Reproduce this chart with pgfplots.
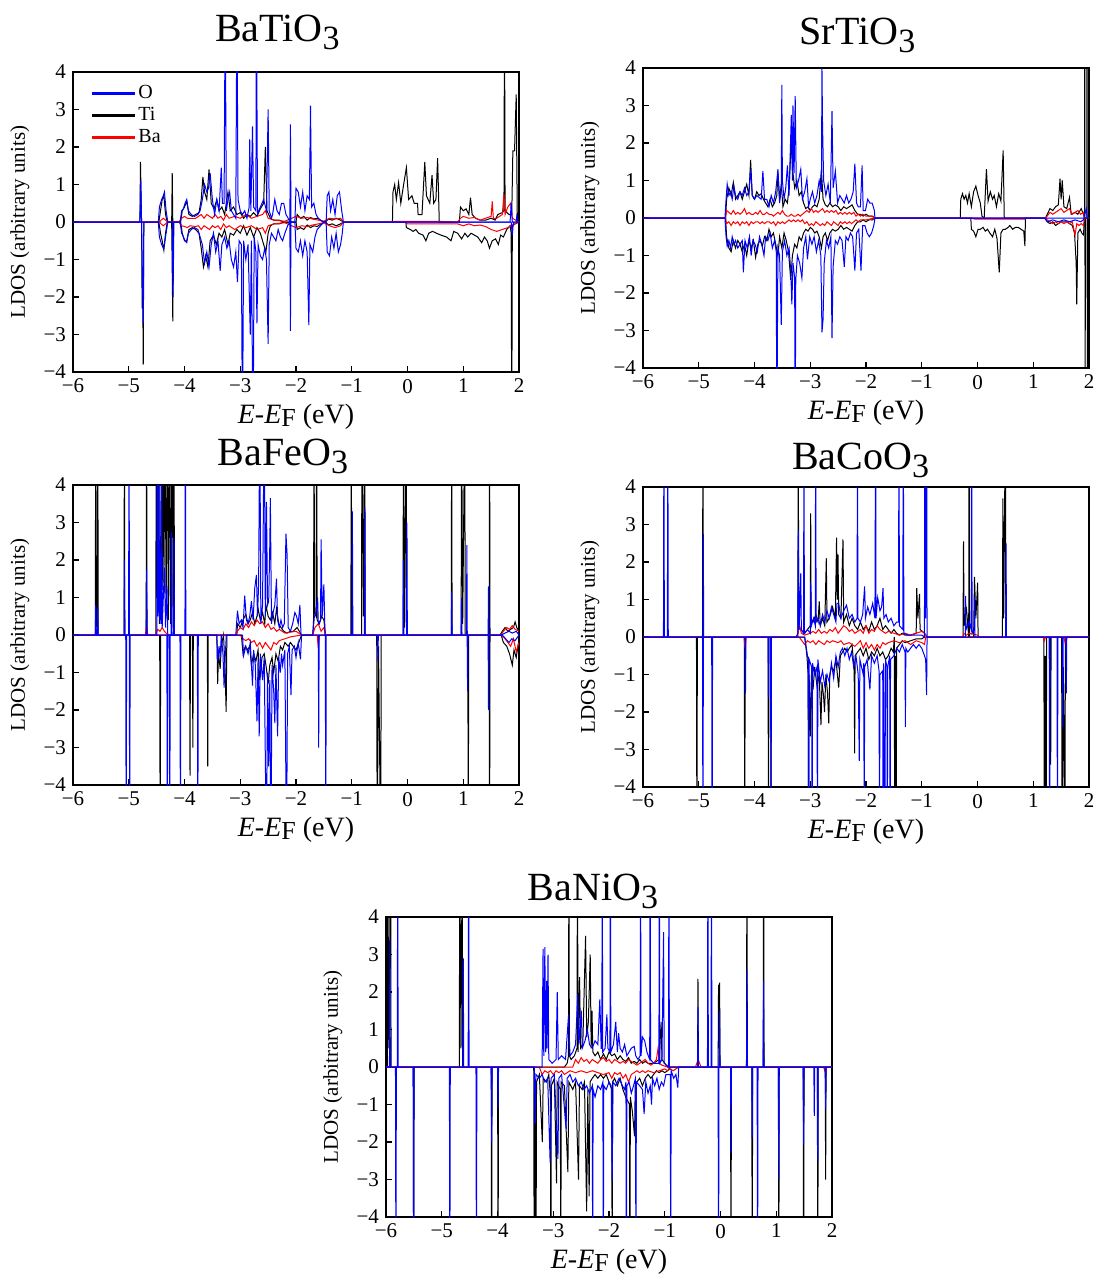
\documentclass[border=0pt]{standalone}
\usepackage{fontspec}
\setmainfont{Liberation Serif}
\usepackage{pgfplots}
\pgfplotsset{compat=1.18}
\tikzset{ti/.style={font=\fontsize{20}{24}\selectfont, anchor=base, inner sep=0pt}}
\newcommand{\tm}[1]{\textrm{#1}}
\pgfplotsset{
 dos/.style={
  scale only axis, width=223pt, height=150pt,
  xmin=-6, xmax=2, ymin=-4, ymax=4,
  xtick={-6,-5,-4,-3,-2,-1,0,1,2},
  xticklabels={\tm{−6},\tm{−5},\tm{−4},\tm{−3},\tm{−2},\tm{−1},\tm{0},\tm{1},\tm{2}},
  ytick={-4,-3,-2,-1,0,1,2,3,4},
  yticklabels={\tm{−4},\tm{−3},\tm{−2},\tm{−1},\tm{0},\tm{1},\tm{2},\tm{3},\tm{4}},
  xtick pos=bottom, ytick pos=left, tick align=inside,
  major tick length=3pt,
  every tick/.style={black, line width=0.6pt},
  axis line style={line width=0.9pt},
  ticklabel style={font=\fontsize{10.5}{12}\selectfont},
  xlabel={\textit{E}-\textit{E}\raisebox{-0.25ex}{\fontsize{13}{14}\selectfont F} (eV)},
  xlabel style={at={(axis description cs:0.5,-0.17)}, anchor=base, font=\fontsize{14}{16}\selectfont},
  ylabel={LDOS (arbitrary units)},
  ylabel style={at={(axis description cs:-0.119,0.5)}, anchor=center, font=\fontsize{10.5}{12}\selectfont},
  every axis plot/.append style={line width=0.5pt, no marks},
 }
}
\newcommand{\sub}[1]{\raisebox{-4pt}{\fontsize{17}{17}\selectfont #1}}
\begin{document}
\begin{tikzpicture}
\useasboundingbox (0,0) rectangle (551pt,-642pt);
% titles
\node[ti] at (138.75pt,-21pt) {BaTiO\sub{3}};
\node[ti] at (428.75pt,-22.5pt) {SrTiO\sub{3}};
\node[ti] at (141.5pt,-232.5pt) {BaFeO\sub{3}};
\node[ti] at (430.25pt,-234.5pt) {BaCoO\sub{3}};
\node[ti] at (296.5pt,-450pt) {BaNiO\sub{3}};

% ---------------- BaTiO3 ----------------
\begin{axis}[dos, at={(36.5pt,-36pt)}, anchor=north west,
  legend style={at={(axis description cs:0.04,0.965)}, anchor=north west, draw=none, fill=none, inner sep=0pt,
    font=\fontsize{10}{11}\selectfont, row sep=0.5pt, nodes={text height=7pt, text depth=1.5pt, inner sep=1pt}},
  legend cell align=left,
  legend image code/.code={\draw[#1, line width=1.1pt] (0pt,0pt) -- (21.5pt,0pt);}]
\addlegendimage{blue}\addlegendentry{O}
\addlegendimage{black}\addlegendentry{Ti}
\addlegendimage{red}\addlegendentry{Ba}
\addplot[black, forget plot] coordinates {(-6,0)(-4.80,0)(-4.79,1.6)(-4.77,0)(-4.46,0)(-4.43,0.3)(-4.40,0.6)(-4.37,0.7)(-4.34,0.2)(-4.31,0)(-4.23,0)(-4.22,1.3)(-4.21,0)(-4.07,0)(-4.04,0.3)(-4.0,0.4)(-3.96,0.55)(-3.92,0.2)(-3.86,0.15)(-3.80,0.2)(-3.74,0.25)(-3.70,0.6)(-3.67,1.2)(-3.64,0.8)(-3.60,0.6)(-3.56,1.4)(-3.52,0.5)(-3.47,0.35)(-3.42,0.6)(-3.38,0.3)(-3.33,0.4)(-3.28,0.2)(-3.22,0.8)(-3.18,0.3)(-3.12,0.4)(-3.06,0.2)(-3.00,0.25)(-2.94,0.1)(-2.88,0.2)(-2.82,0.15)(-2.76,0.25)(-2.70,0.15)(-2.64,0.35)(-2.58,0.5)(-2.55,2.0)(-2.52,0.3)(-2.46,0.1)(-2.40,0.05)(-2.30,0.05)(-2.22,0)(-2.00,0)(-1.98,0.2)(-1.92,0.1)(-1.86,0.15)(-1.80,0.05)(-1.74,0.12)(-1.68,0.08)(-1.62,0.1)(-1.55,0.04)(-1.47,0)(-1.42,0.08)(-1.35,0.05)(-1.28,0.1)(-1.20,0.05)(-1.15,0)(-0.27,0)(-0.26,0.8)(-0.23,1.0)(-0.20,0.6)(-0.16,1.05)(-0.12,0.5)(-0.08,0.9)(-0.02,1.45)(0.02,0.6)(0.08,0.7)(0.12,0.5)(0.18,0.5)(0.19,0.2)(0.26,0.2)(0.31,1.6)(0.34,0.7)(0.40,0.5)(0.44,1.25)(0.47,0.5)(0.51,0.6)(0.54,1.7)(0.57,0)(0.93,0)(0.95,0.4)(1.00,0.3)(1.05,0.35)(1.10,0.2)(1.13,0.65)(1.16,0.2)(1.22,0.1)(1.30,0.05)(1.40,0.05)(1.50,0.1)(1.57,0.05)(1.62,0.2)(1.70,0.25)(1.73,0.3)(1.74,6)(1.75,0.3)(1.82,0.2)(1.87,0.2)(1.89,1.9)(1.92,1.9)(1.95,3.4)(1.97,0)(2,0)};
\addplot[black, forget plot] coordinates {(-6,0)(-4.77,0)(-4.76,-2.3)(-4.75,-1.6)(-4.74,-3.8)(-4.73,0)(-4.46,0)(-4.43,-0.3)(-4.40,-0.5)(-4.37,-0.75)(-4.34,-0.3)(-4.31,0)(-4.23,0)(-4.21,-2.65)(-4.20,0)(-4.07,0)(-4.04,-0.3)(-4.0,-0.5)(-3.96,-0.5)(-3.92,-0.2)(-3.86,-0.15)(-3.80,-0.2)(-3.74,-0.3)(-3.70,-0.7)(-3.66,-1.2)(-3.62,-0.9)(-3.58,-1.2)(-3.54,-0.5)(-3.48,-0.35)(-3.43,-0.6)(-3.38,-0.3)(-3.33,-0.4)(-3.28,-0.2)(-3.22,-0.6)(-3.18,-0.3)(-3.12,-0.35)(-3.06,-0.2)(-3.00,-0.3)(-2.94,-0.1)(-2.88,-0.35)(-2.82,-0.15)(-2.76,-0.4)(-2.70,-0.15)(-2.64,-0.3)(-2.58,-0.6)(-2.54,-0.8)(-2.50,-0.3)(-2.46,-0.1)(-2.40,-0.05)(-2.30,-0.05)(-2.22,0)(-2.00,0)(-1.98,-0.2)(-1.92,-0.15)(-1.86,-0.2)(-1.80,-0.08)(-1.74,-0.15)(-1.68,-0.1)(-1.62,-0.12)(-1.55,-0.05)(-1.47,0)(-1.42,-0.08)(-1.35,-0.05)(-1.28,-0.1)(-1.20,-0.05)(-1.15,0)(-0.03,0)(-0.02,-0.15)(0.05,-0.2)(0.10,-0.25)(0.15,-0.2)(0.20,-0.3)(0.28,-0.35)(0.33,-0.5)(0.38,-0.3)(0.45,-0.25)(0.52,-0.3)(0.60,-0.35)(0.70,-0.4)(0.78,-0.5)(0.83,-0.25)(0.90,-0.3)(0.97,-0.45)(1.03,-0.3)(1.08,-0.4)(1.14,-0.3)(1.20,-0.35)(1.26,-0.4)(1.33,-0.55)(1.38,-0.4)(1.43,-0.5)(1.47,-0.7)(1.52,-0.5)(1.58,-0.45)(1.63,-0.6)(1.67,-0.35)(1.72,-0.4)(1.78,-0.2)(1.84,-0.1)(1.86,-0.3)(1.87,-6)(1.88,-0.1)(1.93,-0.05)(2,0)};
\addplot[red, forget plot] coordinates {(-6,0)(-4.45,0)(-4.42,0.05)(-4.38,0.1)(-4.3,0)(-4.1,0)(-4.05,0.1)(-4.0,0.15)(-3.95,0.1)(-3.9,0.1)(-3.8,0.1)(-3.75,0.15)(-3.7,0.2)(-3.65,0.1)(-3.6,0.2)(-3.55,0.15)(-3.5,0.1)(-3.45,0.2)(-3.4,0.1)(-3.35,0.15)(-3.3,0.05)(-3.25,0.2)(-3.2,0.1)(-3.1,0.15)(-3.0,0.1)(-2.9,0.2)(-2.8,0.1)(-2.7,0.15)(-2.6,0.2)(-2.55,0.3)(-2.5,0.1)(-2.4,0.05)(-2.2,0.02)(-2.0,0.15)(-1.9,0.1)(-1.8,0.12)(-1.7,0.08)(-1.6,0.05)(-1.5,0.02)(-1.4,0.1)(-1.3,0.08)(-1.2,0.1)(-1.15,0)(-0.3,0)(-0.2,0.02)(0.5,0.02)(0.9,0)(0.95,0.1)(1.0,0.15)(1.1,0.1)(1.2,0.12)(1.3,0.05)(1.4,0.1)(1.5,0.15)(1.52,0.55)(1.54,0.1)(1.6,0.1)(1.7,0.2)(1.73,0.75)(1.75,0.2)(1.8,0.4)(1.85,0.5)(1.88,0.1)(2,0)};
\addplot[red, forget plot] coordinates {(-6,0)(-4.45,0)(-4.42,-0.05)(-4.38,-0.1)(-4.3,0)(-4.1,0)(-4.05,-0.1)(-4.0,-0.12)(-3.95,-0.15)(-3.9,-0.1)(-3.8,-0.12)(-3.75,-0.1)(-3.7,-0.2)(-3.65,-0.1)(-3.6,-0.15)(-3.55,-0.2)(-3.5,-0.1)(-3.45,-0.15)(-3.4,-0.1)(-3.35,-0.2)(-3.3,-0.05)(-3.25,-0.15)(-3.2,-0.1)(-3.1,-0.2)(-3.0,-0.1)(-2.9,-0.15)(-2.8,-0.1)(-2.7,-0.2)(-2.6,-0.15)(-2.55,-0.3)(-2.5,-0.1)(-2.4,-0.05)(-2.2,-0.02)(-2.0,-0.15)(-1.9,-0.1)(-1.8,-0.12)(-1.7,-0.08)(-1.6,-0.05)(-1.5,-0.02)(-1.4,-0.1)(-1.3,-0.15)(-1.2,-0.1)(-1.15,0)(-0.05,0)(0.0,-0.05)(0.5,-0.05)(0.9,-0.05)(1.0,-0.1)(1.1,-0.05)(1.2,-0.1)(1.3,-0.08)(1.4,-0.12)(1.5,-0.2)(1.6,-0.25)(1.7,-0.2)(1.8,-0.15)(1.85,-0.1)(2,0)};
\addplot[blue, forget plot] coordinates {(-6,0)(-4.80,0)(-4.785,1.1)(-4.77,0)(-4.47,0)(-4.45,0.4)(-4.41,0.6)(-4.38,0.7)(-4.36,0.8)(-4.33,0.3)(-4.30,0)(-4.08,0)(-4.05,0.3)(-4.02,0.35)(-3.99,0.5)(-3.96,0.6)(-3.93,0.3)(-3.88,0.2)(-3.82,0.15)(-3.76,0.2)(-3.72,0.3)(-3.68,0.6)(-3.64,1.0)(-3.60,0.8)(-3.57,0.9)(-3.54,1.3)(-3.50,0.6)(-3.46,0.2)(-3.42,0.6)(-3.38,0.3)(-3.34,1.45)(-3.32,0.5)(-3.29,0.5)(-3.27,6)(-3.25,0.3)(-3.22,0.6)(-3.19,0.8)(-3.16,0.3)(-3.12,0.2)(-3.08,0.1)(-3.06,6)(-3.04,0.6)(-3.00,0.3)(-2.96,0.2)(-2.92,0.3)(-2.88,0.1)(-2.84,0.4)(-2.83,2.2)(-2.81,0.3)(-2.78,2.55)(-2.76,0.4)(-2.72,0.3)(-2.71,6)(-2.69,0.2)(-2.64,0.4)(-2.58,0.6)(-2.53,0.3)(-2.50,3.0)(-2.48,0.3)(-2.44,0.1)(-2.42,0.2)(-2.38,0.6)(-2.34,0.3)(-2.30,0.2)(-2.26,0.5)(-2.22,0.5)(-2.18,0.2)(-2.14,0.1)(-2.11,0)(-2.10,2.6)(-2.09,0)(-2.02,0)(-2.0,0.9)(-1.96,0.8)(-1.92,0.4)(-1.88,0.8)(-1.84,0.3)(-1.80,0.7)(-1.76,0.6)(-1.74,3.1)(-1.72,0.4)(-1.68,0.5)(-1.64,0.2)(-1.60,0.1)(-1.52,0)(-1.46,0)(-1.44,0.7)(-1.41,0.8)(-1.38,0.3)(-1.34,0.6)(-1.30,0.2)(-1.26,0.7)(-1.22,0.8)(-1.18,0.3)(-1.15,0)(1.84,0)(1.86,0.5)(1.88,0)(1.95,0)(1.96,0.15)(1.98,0)(2,0)};
\addplot[blue, forget plot] coordinates {(-6,0)(-4.77,0)(-4.76,-1.0)(-4.74,-2.7)(-4.73,0)(-4.47,0)(-4.45,-0.4)(-4.41,-0.6)(-4.38,-0.7)(-4.36,-0.6)(-4.33,-0.3)(-4.30,0)(-4.22,0)(-4.205,-2.0)(-4.19,0)(-4.08,0)(-4.05,-0.3)(-4.02,-0.4)(-3.99,-0.5)(-3.96,-0.55)(-3.93,-0.3)(-3.88,-0.2)(-3.82,-0.15)(-3.76,-0.2)(-3.72,-0.4)(-3.68,-0.6)(-3.64,-1.1)(-3.60,-0.8)(-3.56,-1.2)(-3.52,-0.6)(-3.48,-0.3)(-3.44,-0.8)(-3.40,-0.5)(-3.36,-1.3)(-3.33,-0.6)(-3.28,-0.4)(-3.24,-0.7)(-3.20,-0.5)(-3.16,-1.0)(-3.12,-1.2)(-3.08,-0.8)(-3.05,-1.6)(-3.02,-0.5)(-2.98,-0.6)(-2.96,-6)(-2.94,-0.5)(-2.90,-1.0)(-2.86,-0.6)(-2.82,-3.0)(-2.80,-0.5)(-2.77,-6)(-2.75,-0.4)(-2.72,-0.8)(-2.70,-2.7)(-2.68,-0.6)(-2.64,-0.9)(-2.60,-1.0)(-2.56,-0.7)(-2.53,-1.0)(-2.50,-3.25)(-2.48,-0.6)(-2.44,-0.3)(-2.40,-0.4)(-2.36,-0.5)(-2.32,-0.2)(-2.28,-0.4)(-2.24,-0.5)(-2.20,-0.3)(-2.15,-0.1)(-2.11,0)(-2.10,-2.9)(-2.09,0)(-2.02,0)(-2.0,-0.7)(-1.96,-0.8)(-1.92,-0.5)(-1.88,-0.9)(-1.84,-0.5)(-1.80,-0.8)(-1.77,-2.75)(-1.75,-0.6)(-1.70,-0.8)(-1.66,-0.4)(-1.62,-0.2)(-1.56,-0.1)(-1.50,0)(-1.46,0)(-1.44,-0.8)(-1.40,-0.9)(-1.36,-0.4)(-1.32,-0.7)(-1.28,-0.3)(-1.24,-0.8)(-1.20,-0.6)(-1.17,-0.3)(-1.15,0)(1.86,0)(1.88,-0.35)(1.90,0)(2,0)};
\end{axis}

% ---------------- SrTiO3 ----------------
\begin{axis}[dos, at={(321.5pt,-34pt)}, anchor=north west]
\addplot[black] coordinates {(-6,0)(-4.52,0)(-4.50,0.5)(-4.46,0.8)(-4.42,0.6)(-4.38,0.95)(-4.34,0.5)(-4.30,0.6)(-4.26,0.7)(-4.22,0.5)(-4.18,0.7)(-4.14,0.9)(-4.10,0.6)(-4.07,1.55)(-4.04,0.6)(-4.0,0.5)(-3.96,0.7)(-3.92,0.6)(-3.88,0.65)(-3.84,0.5)(-3.80,0.4)(-3.76,0.3)(-3.72,0.5)(-3.68,0.3)(-3.64,0.4)(-3.60,0.6)(-3.58,1.2)(-3.55,0.5)(-3.52,0.9)(-3.49,0.3)(-3.45,0.5)(-3.41,0.4)(-3.38,0.8)(-3.34,2.05)(-3.31,1.2)(-3.28,0.8)(-3.24,1.0)(-3.20,0.6)(-3.16,0.7)(-3.12,0.4)(-3.08,0.25)(-3.04,0.3)(-3.0,0.2)(-2.96,0.3)(-2.92,0.35)(-2.88,0.3)(-2.84,0.5)(-2.80,1.3)(-2.77,0.5)(-2.73,0.35)(-2.69,0.3)(-2.65,0.4)(-2.60,0.3)(-2.55,0.35)(-2.50,0.3)(-2.45,0.2)(-2.40,0.3)(-2.35,0.25)(-2.30,0.3)(-2.25,0.35)(-2.20,0.2)(-2.15,0.1)(-2.10,0.1)(-2.05,0.05)(-2.0,0.1)(-1.95,0.05)(-1.88,0.05)(-1.85,0)(-0.31,0)(-0.30,0.5)(-0.27,0.65)(-0.24,0.5)(-0.21,0.6)(-0.18,0.4)(-0.15,0.65)(-0.11,0.3)(-0.07,0.7)(-0.03,0.85)(0.01,0.6)(0.05,0.4)(0.08,0.05)(0.12,0.0)(0.16,1.3)(0.19,0.45)(0.23,0.7)(0.27,0.5)(0.30,0.6)(0.34,0.3)(0.38,0.65)(0.42,0.45)(0.46,1.8)(0.48,0)(1.22,0)(1.25,0.1)(1.30,0.25)(1.35,0.2)(1.40,0.3)(1.45,0.35)(1.48,1.05)(1.50,0.5)(1.52,1.0)(1.55,0.3)(1.60,0.25)(1.65,0.55)(1.68,0.1)(1.75,0.15)(1.80,0.1)(1.86,0.25)(1.90,0.1)(1.92,0)(1.925,6)(1.93,-6)(1.935,0)(1.96,0)(1.965,6)(1.97,-6)(1.975,0)(2,0)};
\addplot[black] coordinates {(-6,0)(-4.52,0)(-4.50,-0.5)(-4.46,-0.8)(-4.42,-0.9)(-4.38,-0.6)(-4.34,-0.8)(-4.30,-0.6)(-4.26,-0.7)(-4.22,-0.9)(-4.18,-0.7)(-4.14,-1.0)(-4.10,-0.6)(-4.06,-0.8)(-4.02,-0.6)(-3.98,-1.05)(-3.94,-0.7)(-3.90,-0.6)(-3.86,-0.75)(-3.82,-0.5)(-3.78,-0.6)(-3.74,-0.3)(-3.70,-0.5)(-3.66,-0.4)(-3.62,-0.7)(-3.58,-1.0)(-3.55,-0.5)(-3.51,-0.8)(-3.47,-0.4)(-3.43,-0.6)(-3.39,-0.9)(-3.35,-1.65)(-3.32,-1.0)(-3.28,-0.7)(-3.24,-0.8)(-3.20,-0.5)(-3.16,-0.6)(-3.12,-0.4)(-3.08,-0.3)(-3.04,-0.35)(-3.0,-0.25)(-2.96,-0.3)(-2.92,-0.4)(-2.88,-0.35)(-2.84,-0.5)(-2.80,-0.8)(-2.77,-0.5)(-2.73,-0.4)(-2.69,-0.6)(-2.65,-0.4)(-2.60,-0.3)(-2.55,-0.35)(-2.50,-0.3)(-2.45,-0.2)(-2.40,-0.3)(-2.35,-0.25)(-2.30,-0.3)(-2.25,-0.35)(-2.20,-0.2)(-2.15,-0.1)(-2.10,-0.1)(-2.05,-0.05)(-2.0,-0.1)(-1.95,-0.05)(-1.88,-0.05)(-1.85,0)(-0.12,0)(-0.11,-0.3)(-0.07,-0.35)(-0.03,-0.5)(0.01,-0.3)(0.05,-0.3)(0.10,-0.25)(0.14,-0.35)(0.18,-0.3)(0.22,-0.4)(0.27,-0.5)(0.31,-0.3)(0.35,-0.55)(0.39,-1.45)(0.42,-0.4)(0.46,-0.3)(0.50,-0.3)(0.55,-0.25)(0.58,-0.2)(0.63,-0.3)(0.68,-0.25)(0.73,-0.25)(0.78,-0.3)(0.83,-0.35)(0.85,-0.75)(0.86,0)(1.22,0)(1.25,-0.1)(1.30,-0.15)(1.35,-0.1)(1.40,-0.2)(1.45,-0.15)(1.50,-0.1)(1.55,-0.1)(1.60,-0.1)(1.65,-0.15)(1.70,-0.2)(1.74,-0.4)(1.77,-1.2)(1.78,-2.3)(1.80,-0.4)(1.84,-0.3)(1.87,-0.4)(1.90,-0.45)(1.92,0)(2,0)};
\addplot[red] coordinates {(-6,0)(-4.52,0)(-4.50,0.2)(-4.46,0.15)(-4.42,0.1)(-4.38,0.2)(-4.34,0.1)(-4.30,0.15)(-4.26,0.1)(-4.22,0.15)(-4.18,0.25)(-4.14,0.1)(-4.10,0.15)(-4.06,0.1)(-4.02,0.1)(-3.98,0.15)(-3.94,0.1)(-3.90,0.2)(-3.86,0.1)(-3.82,0.1)(-3.78,0.15)(-3.74,0.1)(-3.70,0.1)(-3.66,0.05)(-3.62,0.1)(-3.58,0.15)(-3.54,0.1)(-3.50,0.2)(-3.46,0.1)(-3.42,0.05)(-3.38,0.05)(-3.34,0.1)(-3.30,0.05)(-3.26,0.05)(-3.22,0.1)(-3.18,0.05)(-3.14,0.1)(-3.10,0.15)(-3.06,0.2)(-3.02,0.15)(-2.98,0.25)(-2.94,0.15)(-2.90,0.2)(-2.86,0.15)(-2.82,0.2)(-2.78,0.25)(-2.74,0.15)(-2.70,0.2)(-2.66,0.15)(-2.62,0.2)(-2.58,0.15)(-2.54,0.2)(-2.50,0.1)(-2.46,0.15)(-2.42,0.1)(-2.38,0.15)(-2.34,0.1)(-2.30,0.15)(-2.26,0.1)(-2.22,0.15)(-2.18,0.05)(-2.14,0.1)(-2.10,0.05)(-2.06,0.1)(-2.0,0.05)(-1.9,0.05)(-1.85,0)(1.22,0)(1.25,0.05)(1.30,0.15)(1.35,0.1)(1.40,0.15)(1.45,0.2)(1.50,0.25)(1.55,0.15)(1.60,0.2)(1.65,0.25)(1.70,0.1)(1.75,0.15)(1.80,0.2)(1.85,0.1)(1.90,0.15)(1.92,0)(2,0)};
\addplot[red] coordinates {(-6,0)(-4.52,0)(-4.50,-0.15)(-4.46,-0.1)(-4.42,-0.2)(-4.38,-0.1)(-4.34,-0.15)(-4.30,-0.1)(-4.26,-0.2)(-4.22,-0.1)(-4.18,-0.15)(-4.14,-0.1)(-4.10,-0.2)(-4.06,-0.1)(-4.02,-0.15)(-3.98,-0.1)(-3.94,-0.1)(-3.90,-0.15)(-3.86,-0.1)(-3.82,-0.15)(-3.78,-0.1)(-3.74,-0.1)(-3.70,-0.15)(-3.66,-0.1)(-3.62,-0.2)(-3.58,-0.1)(-3.54,-0.15)(-3.50,-0.1)(-3.46,-0.15)(-3.42,-0.1)(-3.38,-0.05)(-3.34,-0.1)(-3.30,-0.05)(-3.26,-0.1)(-3.22,-0.05)(-3.18,-0.1)(-3.14,-0.05)(-3.10,-0.15)(-3.06,-0.1)(-3.02,-0.2)(-2.98,-0.15)(-2.94,-0.2)(-2.90,-0.1)(-2.86,-0.15)(-2.82,-0.2)(-2.78,-0.15)(-2.74,-0.2)(-2.70,-0.1)(-2.66,-0.15)(-2.62,-0.2)(-2.58,-0.1)(-2.54,-0.15)(-2.50,-0.2)(-2.46,-0.1)(-2.42,-0.15)(-2.38,-0.1)(-2.34,-0.15)(-2.30,-0.1)(-2.26,-0.15)(-2.22,-0.1)(-2.18,-0.05)(-2.14,-0.1)(-2.10,-0.05)(-2.0,-0.05)(-1.85,0)(-0.10,0)(-0.05,-0.03)(0.85,-0.03)(0.86,0)(1.22,0)(1.25,-0.05)(1.30,-0.1)(1.35,-0.15)(1.40,-0.1)(1.45,-0.15)(1.50,-0.1)(1.55,-0.15)(1.60,-0.1)(1.65,-0.15)(1.70,-0.1)(1.75,-0.45)(1.78,-0.15)(1.82,-0.2)(1.86,-0.15)(1.90,-0.2)(1.92,0)(2,0)};
\addplot[blue] coordinates {(-6,0)(-4.53,0)(-4.51,0.5)(-4.49,0.9)(-4.46,0.6)(-4.43,0.7)(-4.40,0.5)(-4.37,0.85)(-4.34,0.6)(-4.30,0.5)(-4.26,0.7)(-4.22,0.6)(-4.18,0.8)(-4.14,0.6)(-4.10,0.7)(-4.07,1.3)(-4.04,0.6)(-4.0,0.5)(-3.96,0.6)(-3.92,0.55)(-3.88,0.5)(-3.85,1.25)(-3.82,0.5)(-3.78,0.5)(-3.74,0.3)(-3.70,0.6)(-3.66,0.4)(-3.62,0.7)(-3.58,1.3)(-3.55,0.4)(-3.52,0.8)(-3.51,3.55)(-3.50,1.0)(-3.47,0.5)(-3.44,0.8)(-3.41,1.4)(-3.38,0.6)(-3.34,2.75)(-3.32,1.0)(-3.31,3.0)(-3.29,1.2)(-3.27,3.25)(-3.25,0.8)(-3.21,1.0)(-3.17,1.3)(-3.14,0.5)(-3.10,0.7)(-3.06,1.05)(-3.03,0.3)(-3.0,0.5)(-2.96,0.7)(-2.92,0.4)(-2.88,0.6)(-2.84,1.0)(-2.80,0.7)(-2.79,4.0)(-2.78,2.5)(-2.76,1.0)(-2.72,0.6)(-2.68,0.9)(-2.64,0.4)(-2.61,2.85)(-2.59,0.8)(-2.55,1.25)(-2.51,0.4)(-2.47,0.6)(-2.43,0.5)(-2.39,0.4)(-2.35,0.6)(-2.31,0.4)(-2.27,0.5)(-2.23,0.7)(-2.20,1.45)(-2.17,0.4)(-2.14,0.3)(-2.10,0.3)(-2.07,1.4)(-2.05,0.2)(-2.01,0.2)(-1.97,0.5)(-1.93,0.4)(-1.89,0.4)(-1.85,0.2)(-1.84,0)(2,0)};
\addplot[blue] coordinates {(-6,0)(-4.53,0)(-4.51,-0.5)(-4.49,-0.75)(-4.46,-0.6)(-4.43,-0.8)(-4.40,-0.5)(-4.37,-0.7)(-4.34,-0.6)(-4.30,-0.8)(-4.26,-0.7)(-4.22,-0.6)(-4.20,-1.45)(-4.17,-0.6)(-4.13,-0.8)(-4.09,-0.5)(-4.06,-1.0)(-4.03,-0.6)(-3.99,-0.7)(-3.95,-0.9)(-3.91,-0.5)(-3.87,-0.7)(-3.83,-1.0)(-3.80,-0.5)(-3.76,-0.6)(-3.72,-0.4)(-3.68,-0.8)(-3.64,-0.6)(-3.61,-0.9)(-3.60,-6)(-3.58,-0.8)(-3.55,-1.0)(-3.52,-2.85)(-3.50,-0.9)(-3.46,-0.6)(-3.42,-1.0)(-3.38,-0.8)(-3.35,-1.4)(-3.33,-2.3)(-3.31,-1.2)(-3.28,-1.6)(-3.27,-6)(-3.26,-1.65)(-3.23,-1.0)(-3.19,-1.2)(-3.15,-1.6)(-3.12,-0.8)(-3.08,-0.5)(-3.05,-1.1)(-3.01,-0.5)(-2.97,-0.7)(-2.93,-0.5)(-2.89,-0.9)(-2.85,-0.6)(-2.81,-1.0)(-2.79,-3.05)(-2.77,-2.7)(-2.75,-1.2)(-2.71,-0.6)(-2.67,-0.8)(-2.63,-0.5)(-2.61,-3.2)(-2.59,-1.3)(-2.55,-0.6)(-2.51,-0.7)(-2.47,-0.5)(-2.43,-0.6)(-2.39,-1.3)(-2.36,-0.5)(-2.32,-0.6)(-2.28,-0.4)(-2.24,-0.5)(-2.20,-1.4)(-2.17,-0.4)(-2.13,-0.3)(-2.09,-1.4)(-2.06,-0.2)(-2.02,-0.2)(-1.98,-0.4)(-1.94,-0.5)(-1.90,-0.4)(-1.86,-0.2)(-1.84,0)(1.20,0)(1.25,-0.1)(1.35,-0.05)(1.45,-0.1)(1.55,-0.05)(1.65,-0.1)(1.75,-0.05)(1.85,-0.1)(1.90,-0.05)(1.95,0.25)(1.97,0)(2,0)};
\end{axis}

% ---------------- BaFeO3 ----------------
\begin{axis}[dos, at={(36.5pt,-242.5pt)}, anchor=north west]
\addplot[black] coordinates {(-6,0)(-5.60,0)(-5.593,6)(-5.585,0.3)(-5.57,0.2)(-5.555,6)(-5.548,0)(-5.085,0)(-5.078,6)(-5.071,0)(-4.688,0)(-4.68,6)(-4.672,0.2)(-4.665,0)(-4.515,0)(-4.506,6)(-4.497,1.0)(-4.487,6)(-4.475,1.5)(-4.461,6)(-4.45,0.3)(-4.43,1.8)(-4.41,6)(-4.40,1.2)(-4.385,6)(-4.37,1.4)(-4.347,6)(-4.33,0.5)(-4.302,6)(-4.29,0.4)(-4.264,6)(-4.25,0.3)(-4.219,6)(-4.205,0.2)(-4.188,6)(-4.18,0)(-3.06,0)(-3.05,0.3)(-3.0,0.2)(-2.95,0.4)(-2.90,0.55)(-2.86,0.3)(-2.82,0.4)(-2.78,0.6)(-2.74,0.3)(-2.70,0.5)(-2.68,0.7)(-2.64,0.4)(-2.60,0.6)(-2.56,0.3)(-2.54,0.8)(-2.50,0.5)(-2.46,0.4)(-2.42,0.6)(-2.38,0.3)(-2.35,0.7)(-2.31,0.3)(-2.27,0.2)(-2.22,0.1)(-2.16,0.05)(-2.10,0.1)(-2.05,0.1)(-1.98,0.2)(-1.94,0.1)(-1.90,0)(-1.70,0)(-1.685,0.4)(-1.676,6)(-1.668,0.6)(-1.64,0.5)(-1.631,6)(-1.62,0.4)(-1.58,0.3)(-1.54,0.5)(-1.50,0.4)(-1.47,0)(-1.016,0)(-1.008,6)(-1.0,0)(-0.825,0)(-0.817,6)(-0.79,0.5)(-0.766,6)(-0.758,0)(-0.08,0)(-0.073,6)(-0.05,0.2)(-0.022,6)(-0.015,0)(0.785,0)(0.792,6)(0.80,0)(0.962,0)(0.97,6)(0.99,0.3)(1.027,6)(1.035,0)(1.465,0)(1.472,6)(1.48,0)(1.66,0)(1.70,0.1)(1.75,0.2)(1.80,0.1)(1.85,0.15)(1.90,0.2)(1.93,0.35)(1.96,0.2)(2,0.1)};
\addplot[black] coordinates {(-6,0)(-4.445,0)(-4.436,-6)(-4.428,0)(-3.91,0)(-3.901,-3.75)(-3.893,0)(-3.858,0)(-3.85,-3.0)(-3.842,0)(-3.59,0)(-3.583,-3.5)(-3.575,0)(-3.42,0)(-3.405,-1.3)(-3.39,-0.5)(-3.36,-0.9)(-3.34,-0.3)(-3.30,0)(-3.27,-1.0)(-3.253,-2.05)(-3.24,0)(-2.98,0)(-2.95,-0.5)(-2.91,-0.3)(-2.87,-0.4)(-2.83,-0.3)(-2.80,-0.8)(-2.76,-0.5)(-2.72,-0.7)(-2.68,-0.4)(-2.65,-1.2)(-2.61,-0.6)(-2.57,-0.5)(-2.53,-0.9)(-2.50,-1.3)(-2.47,-0.8)(-2.43,-0.6)(-2.40,-1.0)(-2.36,-0.5)(-2.32,-0.7)(-2.28,-0.3)(-2.24,-0.4)(-2.20,-0.2)(-2.14,-0.3)(-2.10,-0.2)(-2.05,-0.3)(-2.0,-0.4)(-1.95,-0.2)(-1.90,0)(-0.552,0)(-0.544,-6)(-0.52,-0.3)(-0.48,-6)(-0.472,0)(1.082,0)(1.09,-6)(1.098,0)(1.465,0)(1.472,-6)(1.48,0)(1.68,0)(1.72,-0.2)(1.78,-0.3)(1.83,-0.5)(1.88,-0.8)(1.91,-0.4)(1.95,-0.6)(1.98,-0.3)(2,-0.5)};
\addplot[red] coordinates {(-6,0)(-5.60,0)(-5.593,0.2)(-5.585,0)(-4.70,0)(-4.68,0.25)(-4.66,0)(-4.52,0)(-4.48,0.15)(-4.44,0.1)(-4.40,0.2)(-4.36,0.1)(-4.30,0)(-3.08,0)(-3.05,0.1)(-3.0,0.2)(-2.95,0.15)(-2.9,0.3)(-2.85,0.2)(-2.8,0.35)(-2.75,0.25)(-2.7,0.4)(-2.65,0.3)(-2.6,0.35)(-2.55,0.2)(-2.5,0.3)(-2.45,0.15)(-2.4,0.2)(-2.35,0.1)(-2.3,0.15)(-2.2,0.05)(-2.0,0.1)(-1.9,0)(-1.70,0)(-1.66,0.2)(-1.60,0.3)(-1.55,0.1)(-1.50,0.2)(-1.47,0)(1.68,0)(1.72,0.1)(1.78,0.2)(1.83,0.15)(1.88,0.25)(1.93,0.15)(2,0.1)};
\addplot[red] coordinates {(-6,0)(-3.0,0)(-2.95,-0.1)(-2.9,-0.15)(-2.85,-0.1)(-2.8,-0.2)(-2.75,-0.15)(-2.7,-0.3)(-2.65,-0.2)(-2.6,-0.35)(-2.55,-0.2)(-2.5,-0.3)(-2.45,-0.4)(-2.4,-0.2)(-2.35,-0.25)(-2.3,-0.15)(-2.2,-0.1)(-2.1,-0.05)(-1.9,0)(-1.62,0)(-1.60,-0.35)(-1.58,0)(1.68,0)(1.75,-0.1)(1.8,-0.2)(1.85,-0.3)(1.9,-0.1)(1.95,-0.45)(2,-0.2)};
\addplot[blue] coordinates {(-6,0)(-5.60,0)(-5.593,0.8)(-5.585,0)(-5.562,0)(-5.555,0.75)(-5.548,0)(-5.085,0)(-5.078,2.0)(-5.07,0)(-5.003,0)(-4.995,6)(-4.987,0)(-4.688,0)(-4.68,1.75)(-4.672,0)(-4.495,0)(-4.487,6)(-4.475,0.5)(-4.461,6)(-4.448,0.4)(-4.436,2.2)(-4.425,0.3)(-4.41,6)(-4.40,0.2)(-4.36,1.8)(-4.34,0.2)(-4.315,1.3)(-4.30,0)(-4.24,0)(-4.232,2.75)(-4.224,0)(-4.195,0)(-4.188,2.6)(-4.18,0)(-3.992,0)(-3.984,6)(-3.976,0)(-3.08,0)(-3.05,0.65)(-3.02,0.3)(-2.98,0.4)(-2.95,0.2)(-2.92,1.05)(-2.89,0.4)(-2.86,0.3)(-2.83,0.5)(-2.80,0.9)(-2.77,0.4)(-2.74,1.25)(-2.71,1.6)(-2.69,0.5)(-2.67,1.4)(-2.65,6)(-2.63,0.3)(-2.60,0.8)(-2.57,6)(-2.55,0.5)(-2.53,3.55)(-2.51,0.8)(-2.49,0.9)(-2.47,2.4)(-2.46,3.65)(-2.44,0.3)(-2.41,0.6)(-2.38,0.8)(-2.35,1.5)(-2.33,0.4)(-2.30,0.2)(-2.27,0.4)(-2.24,0.2)(-2.21,0.3)(-2.18,2.7)(-2.16,2.15)(-2.14,0.2)(-2.10,0.1)(-2.06,0.3)(-2.02,0.6)(-1.99,0.5)(-1.96,0.3)(-1.93,0.8)(-1.91,0)(-1.70,0)(-1.67,0.5)(-1.64,0.6)(-1.612,1.0)(-1.60,0.3)(-1.56,0.4)(-1.55,2.55)(-1.53,0.5)(-1.50,1.35)(-1.48,0)(-0.997,0)(-0.989,3.3)(-0.98,0)(-0.774,0)(-0.766,3.4)(-0.758,0)(-0.08,0)(-0.073,2.0)(-0.066,0)(-0.017,0)(-0.01,3.0)(-0.003,0)(0.785,0)(0.792,1.15)(0.80,0)(0.962,0)(0.97,1.0)(0.978,0)(1.058,0)(1.065,2.4)(1.072,0)(1.446,0)(1.453,1.3)(1.46,0)(1.68,0)(1.75,0.05)(1.82,0.1)(1.88,0.05)(1.95,0.1)(2,0)};
\addplot[blue] coordinates {(-6,0)(-5.054,0)(-5.046,-6)(-5.038,0)(-4.99,0)(-4.983,-6)(-4.975,0)(-4.316,0)(-4.308,-6)(-4.30,0)(-4.272,0)(-4.264,-6)(-4.256,0)(-4.081,0)(-4.073,-6)(-4.065,0)(-3.769,0)(-3.761,-6)(-3.753,0)(-3.42,0)(-3.405,-0.7)(-3.38,-0.3)(-3.36,-0.6)(-3.34,0)(-3.31,-0.5)(-3.29,-1.4)(-3.27,-0.6)(-3.25,0)(-2.96,0)(-2.94,-0.55)(-2.90,-0.3)(-2.86,-0.5)(-2.82,-0.2)(-2.78,-1.35)(-2.76,-0.4)(-2.73,-0.8)(-2.70,-2.3)(-2.68,-0.6)(-2.66,-2.7)(-2.64,-0.5)(-2.60,-1.2)(-2.57,-0.6)(-2.53,-6)(-2.51,-1.0)(-2.49,-3.5)(-2.47,-1.2)(-2.45,-6)(-2.43,-0.8)(-2.40,-1.5)(-2.38,-2.35)(-2.36,-0.8)(-2.33,-2.7)(-2.31,-0.6)(-2.28,-1.0)(-2.26,-0.5)(-2.24,-0.8)(-2.20,-0.4)(-2.17,-6)(-2.15,-0.5)(-2.12,-0.3)(-2.09,-1.6)(-2.07,-0.4)(-2.03,-0.3)(-2.00,-0.6)(-1.96,-0.2)(-1.92,-0.65)(-1.90,0)(-1.60,0)(-1.593,-3.0)(-1.585,0)(-1.474,0)(-1.466,-6)(-1.458,0)(-0.539,0)(-0.531,-0.7)(-0.523,0)(1.07,0)(1.078,-1.5)(1.086,0)(1.446,0)(1.453,-2.0)(1.46,0)(1.70,0)(1.76,-0.1)(1.82,-0.2)(1.87,-0.1)(1.93,-0.15)(2,0)};
\end{axis}

% ---------------- BaCoO3 ----------------
\begin{axis}[dos, at={(321.5pt,-243.5pt)}, anchor=north west]
\addplot[black] coordinates {(-6,0)(-4.933,0)(-4.925,6)(-4.917,0)(-3.223,0)(-3.215,6)(-3.207,0.3)(-3.18,0.2)(-3.10,0.1)(-3.00,0.3)(-2.992,3.3)(-2.985,0.5)(-2.95,0.4)(-2.90,0.6)(-2.86,0.4)(-2.839,0.95)(-2.82,0.3)(-2.78,0.5)(-2.74,0.3)(-2.712,2.1)(-2.70,0.4)(-2.66,0.5)(-2.60,0.8)(-2.55,0.5)(-2.528,2.65)(-2.515,1.0)(-2.502,2.2)(-2.49,0.6)(-2.45,0.5)(-2.413,2.6)(-2.40,0.4)(-2.35,0.6)(-2.30,0.3)(-2.25,0.5)(-2.20,0.3)(-2.15,0.2)(-2.10,0.4)(-2.05,0.2)(-2.0,0.3)(-1.95,0.15)(-1.90,0.4)(-1.85,0.2)(-1.80,0.3)(-1.75,0.5)(-1.70,0.2)(-1.65,0.3)(-1.60,0.2)(-1.55,0.1)(-1.50,0.2)(-1.45,0.1)(-1.40,0.05)(-1.35,0.1)(-1.30,0.05)(-1.20,0.05)(-1.10,0.1)(-1.09,1.3)(-1.07,0.5)(-1.04,1.15)(-1.03,0.2)(-0.95,0.1)(-0.90,0)(-0.26,0)(-0.251,2.55)(-0.24,0.3)(-0.20,0.8)(-0.158,0)(-0.15,6)(-0.142,0)(-0.07,0)(-0.054,1.6)(-0.03,0.5)(0.003,1.45)(0.01,0)(0.447,0)(0.455,3.7)(0.47,0.5)(0.5,6)(0.508,0)(2,0)};
\addplot[black] coordinates {(-6,0)(-5.041,0)(-5.033,-6)(-5.025,0)(-4.183,0)(-4.175,-6)(-4.167,0)(-3.757,0)(-3.749,-6)(-3.741,0)(-3.712,0)(-3.704,-6)(-3.696,0)(-3.10,0)(-3.06,-0.5)(-3.038,-1.0)(-3.03,-6)(-3.02,-1.0)(-2.998,-2.65)(-2.98,-1.0)(-2.95,-1.4)(-2.92,-0.8)(-2.88,-1.3)(-2.84,-1.0)(-2.808,-2.35)(-2.79,-1.2)(-2.76,-1.6)(-2.744,-2.0)(-2.72,-1.0)(-2.69,-1.5)(-2.668,-2.3)(-2.65,-1.0)(-2.62,-0.8)(-2.58,-0.9)(-2.54,-0.6)(-2.49,-1.35)(-2.46,-0.5)(-2.42,-0.4)(-2.38,-0.3)(-2.34,-0.4)(-2.30,-0.3)(-2.25,-0.2)(-2.212,-0.9)(-2.204,-3.1)(-2.196,-0.5)(-2.15,-0.4)(-2.10,-0.3)(-2.05,-0.5)(-2.0,-0.3)(-1.95,-0.6)(-1.90,-0.4)(-1.85,-0.5)(-1.80,-0.3)(-1.75,-0.5)(-1.70,-0.4)(-1.65,-0.6)(-1.60,-0.5)(-1.55,-0.3)(-1.51,-0.4)(-1.493,0)(-1.485,-6)(-1.47,-0.5)(-1.46,-6)(-1.452,-0.3)(-1.40,-0.2)(-1.35,-0.1)(-1.30,-0.15)(-1.20,-0.1)(-1.10,-0.05)(-1.0,-0.05)(-0.95,0)(1.19,0)(1.199,-6)(1.215,-0.5)(1.231,-6)(1.24,0)(1.305,0)(1.313,-3.4)(1.32,0)(1.509,0)(1.517,-6)(1.54,-0.8)(1.568,-6)(1.576,0)(2,0)};
\addplot[red] coordinates {(-6,0)(-3.25,0)(-3.22,0.1)(-3.19,0.3)(-3.16,0.1)(-3.10,0.05)(-3.0,0.1)(-2.95,0.15)(-2.90,0.1)(-2.85,0.2)(-2.80,0.1)(-2.75,0.15)(-2.70,0.1)(-2.65,0.2)(-2.60,0.15)(-2.55,0.25)(-2.50,0.1)(-2.45,0.2)(-2.40,0.3)(-2.35,0.25)(-2.30,0.15)(-2.25,0.2)(-2.20,0.1)(-2.15,0.15)(-2.10,0.2)(-2.05,0.1)(-2.0,0.3)(-1.95,0.1)(-1.90,0.2)(-1.85,0.15)(-1.80,0.3)(-1.75,0.2)(-1.70,0.15)(-1.65,0.1)(-1.60,0.15)(-1.50,0.1)(-1.40,0.05)(-1.30,0.1)(-1.20,0.05)(-1.10,0.1)(-1.00,0.15)(-0.95,0.1)(-0.90,0)(-0.26,0)(-0.25,0.1)(-0.20,0.05)(-0.15,0.1)(0.0,0.05)(0.01,0)(2,0)};
\addplot[red] coordinates {(-6,0)(-4.19,0)(-4.17,-0.3)(-4.15,0)(-3.20,0)(-3.15,-0.1)(-3.10,-0.2)(-3.05,-0.1)(-3.0,-0.15)(-2.95,-0.1)(-2.90,-0.2)(-2.85,-0.1)(-2.80,-0.15)(-2.75,-0.2)(-2.70,-0.1)(-2.65,-0.15)(-2.60,-0.1)(-2.50,-0.15)(-2.45,-0.1)(-2.40,-0.2)(-2.30,-0.15)(-2.20,-0.25)(-2.10,-0.1)(-2.05,-0.3)(-2.0,-0.15)(-1.95,-0.3)(-1.90,-0.2)(-1.85,-0.35)(-1.80,-0.2)(-1.75,-0.3)(-1.70,-0.15)(-1.65,-0.2)(-1.60,-0.15)(-1.50,-0.1)(-1.40,-0.15)(-1.30,-0.1)(-1.20,-0.2)(-1.10,-0.1)(-1.00,-0.15)(-0.95,-0.2)(-0.93,0)(1.18,0)(1.20,-0.1)(1.22,0)(1.55,0)(1.57,-0.15)(1.59,0)(2,0)};
\addplot[blue] coordinates {(-6,0)(-5.633,0)(-5.625,6)(-5.617,0)(-5.563,0)(-5.555,6)(-5.547,0)(-4.927,0)(-4.919,2.75)(-4.911,0)(-3.25,0)(-3.223,0.1)(-3.215,2.85)(-3.20,0.2)(-3.17,1.7)(-3.16,0.2)(-3.12,0.1)(-3.113,6)(-3.105,0.1)(-3.05,0.2)(-3.0,0.1)(-2.992,1.45)(-2.98,0.3)(-2.94,0.5)(-2.91,0.3)(-2.903,6)(-2.895,0.4)(-2.86,0.5)(-2.82,0.3)(-2.78,0.6)(-2.74,0.4)(-2.70,0.7)(-2.66,0.5)(-2.62,0.8)(-2.58,0.6)(-2.54,0.4)(-2.52,0.9)(-2.49,0.9)(-2.45,0.5)(-2.40,0.7)(-2.35,0.85)(-2.30,0.5)(-2.25,0.6)(-2.20,0.4)(-2.16,0.5)(-2.153,6)(-2.145,0.5)(-2.10,0.4)(-2.06,0.6)(-2.025,1.35)(-2.01,0.5)(-1.97,0.8)(-1.93,0.6)(-1.88,0.9)(-1.84,0.5)(-1.828,6)(-1.82,0.5)(-1.79,1.05)(-1.75,0.7)(-1.72,0.8)(-1.695,1.3)(-1.68,0.5)(-1.64,0.6)(-1.60,0.4)(-1.55,0.5)(-1.50,0.3)(-1.45,0.4)(-1.417,0.4)(-1.409,6)(-1.40,0.3)(-1.34,0.2)(-1.332,6)(-1.32,0.1)(-1.25,0.05)(-1.10,0.05)(-1.0,0.05)(-0.952,0)(-0.944,6)(-0.93,0.5)(-0.913,6)(-0.905,0)(-0.22,0)(-0.213,1.1)(-0.205,0.2)(-0.15,0.4)(-0.113,0.2)(-0.105,6)(-0.097,0.1)(-0.06,0.2)(-0.054,1.05)(-0.045,0)(0.505,0)(0.512,2.5)(0.52,0)(2,0)};
\addplot[blue] coordinates {(-6,0)(-4.933,0)(-4.925,-6)(-4.917,0)(-4.768,0)(-4.76,-6)(-4.752,0)(-4.17,0)(-4.162,-1.5)(-4.154,0)(-3.757,0)(-3.749,-1.6)(-3.741,0)(-3.712,0)(-3.704,-6)(-3.696,0)(-3.10,0)(-3.06,-0.4)(-3.038,-0.6)(-3.03,-6)(-3.02,-0.6)(-2.975,-0.8)(-2.967,-6)(-2.959,-0.7)(-2.92,-1.0)(-2.879,-0.8)(-2.871,-6)(-2.863,-0.6)(-2.82,-1.2)(-2.78,-0.9)(-2.74,-1.3)(-2.70,-1.0)(-2.66,-1.2)(-2.62,-0.7)(-2.58,-1.1)(-2.54,-0.5)(-2.50,-0.8)(-2.46,-0.4)(-2.42,-0.3)(-2.38,-0.5)(-2.34,-0.3)(-2.30,-0.6)(-2.26,-0.4)(-2.22,-0.8)(-2.18,-0.5)(-2.14,-1.0)(-2.121,-3.3)(-2.11,-0.6)(-2.08,-0.8)(-2.05,-1.0)(-2.04,-0.7)(-2.032,-6)(-2.024,-0.8)(-1.98,-0.6)(-1.93,-1.4)(-1.90,-0.5)(-1.85,-0.7)(-1.80,-0.5)(-1.766,-0.9)(-1.758,-6)(-1.75,-1.0)(-1.70,-0.9)(-1.695,-6)(-1.685,-0.7)(-1.663,-6)(-1.65,-0.6)(-1.625,-0.8)(-1.618,-6)(-1.61,-0.8)(-1.575,-0.5)(-1.568,-6)(-1.56,-0.6)(-1.50,-0.5)(-1.45,-0.3)(-1.40,-0.4)(-1.35,-0.2)(-1.30,-0.4)(-1.294,-2.4)(-1.285,-0.3)(-1.25,-0.4)(-1.20,-0.3)(-1.15,-0.2)(-1.10,-0.3)(-1.05,-0.2)(-1.0,-0.3)(-0.95,-0.5)(-0.93,-0.6)(-0.913,-1.55)(-0.905,0)(1.286,0)(1.294,-6)(1.302,0)(1.426,0)(1.434,-6)(1.442,0)(1.522,0)(1.53,-2.4)(1.538,0)(1.585,0)(1.593,-1.5)(1.601,0)(2,0)};
\end{axis}

% ---------------- BaNiO3 ----------------
\begin{axis}[dos, at={(193pt,-458.5pt)}, anchor=north west]
\addplot[black] coordinates {(-6,0)(-5.976,0)(-5.968,6)(-5.95,0.5)(-5.917,6)(-5.909,0)(-4.685,0)(-4.677,6)(-4.655,0.5)(-4.633,6)(-4.625,0)(-2.80,0)(-2.75,0.1)(-2.727,0.3)(-2.719,6)(-2.711,0.3)(-2.68,0.2)(-2.62,0.3)(-2.574,0.5)(-2.566,6)(-2.555,0.4)(-2.528,2.4)(-2.51,0.5)(-2.47,0.6)(-2.42,3.5)(-2.40,0.8)(-2.37,1.2)(-2.337,3.0)(-2.32,0.5)(-2.305,1.5)(-2.29,0.4)(-2.25,0.3)(-2.20,0.4)(-2.15,0.2)(-2.10,0.35)(-2.05,0.2)(-2.0,0.4)(-1.95,0.3)(-1.90,0.35)(-1.85,0.2)(-1.80,0.3)(-1.75,0.2)(-1.70,0.15)(-1.65,0.25)(-1.60,0.1)(-1.55,0.15)(-1.50,0.1)(-1.45,0.2)(-1.40,0.1)(-1.35,0.15)(-1.30,0.1)(-1.20,0.1)(-1.10,0.2)(-1.065,1.2)(-1.05,0.2)(-1.0,0.1)(-0.95,0)(-0.412,0)(-0.404,2.35)(-0.396,0)(-0.043,0)(-0.035,2.2)(-0.025,0.5)(-0.016,2.25)(-0.008,0)(0.466,0)(0.474,6)(0.482,0)(0.765,0)(0.773,6)(0.781,0)(2,0)};
\addplot[black] coordinates {(-6,0)(-5.512,0)(-5.504,-6)(-5.496,0)(-4.113,0)(-4.105,-6)(-4.097,0)(-3.998,0)(-3.99,-6)(-3.982,0)(-3.35,0)(-3.342,-6)(-3.33,-0.5)(-3.31,-6)(-3.30,-0.4)(-3.25,-0.2)(-3.196,-2.0)(-3.18,-0.3)(-3.12,-0.4)(-3.08,-0.2)(-3.05,-0.8)(-3.043,-6)(-3.035,-0.5)(-2.98,-0.3)(-2.941,-3.1)(-2.93,-0.4)(-2.873,-0.6)(-2.865,-6)(-2.857,-0.4)(-2.80,-0.5)(-2.738,-2.8)(-2.72,-0.4)(-2.65,-0.6)(-2.60,-0.4)(-2.547,-3.0)(-2.53,-0.5)(-2.48,-0.6)(-2.44,-0.4)(-2.401,-3.85)(-2.38,-0.6)(-2.356,-3.45)(-2.34,-0.4)(-2.30,-0.3)(-2.25,-0.2)(-2.20,-0.3)(-2.15,-0.2)(-2.10,-0.3)(-2.05,-0.2)(-2.0,-0.4)(-1.951,-0.6)(-1.943,-6)(-1.935,-0.4)(-1.90,-0.3)(-1.85,-0.5)(-1.80,-0.3)(-1.75,-0.6)(-1.70,-0.8)(-1.633,-1.0)(-1.625,-6)(-1.617,-0.8)(-1.58,-1.2)(-1.542,-1.85)(-1.53,-0.5)(-1.50,-0.4)(-1.45,-0.3)(-1.40,-0.5)(-1.35,-0.3)(-1.30,-0.2)(-1.25,-0.3)(-1.20,-0.2)(-1.15,-0.1)(-1.10,-0.15)(-1.05,-0.1)(-1.0,-0.15)(-0.95,-0.1)(-0.90,0)(0.18,0)(0.188,-6)(0.196,0)(0.561,0)(0.569,-6)(0.577,0)(1.038,0)(1.046,-6)(1.054,0)(1.483,0)(1.491,-6)(1.499,0)(1.737,0)(1.745,-6)(1.753,0)(1.878,0)(1.886,-3.0)(1.894,0)(2,0)};
\addplot[red] coordinates {(-6,0)(-2.65,0)(-2.60,0.2)(-2.55,0.1)(-2.50,0.25)(-2.45,0.15)(-2.40,0.2)(-2.35,0.1)(-2.30,0.2)(-2.25,0.15)(-2.20,0.1)(-2.15,0.2)(-2.10,0.25)(-2.05,0.15)(-2.0,0.2)(-1.95,0.1)(-1.90,0.2)(-1.85,0.15)(-1.80,0.1)(-1.75,0.15)(-1.70,0.1)(-1.65,0.2)(-1.60,0.15)(-1.55,0.1)(-1.50,0.05)(-1.45,0.1)(-1.40,0.15)(-1.35,0.2)(-1.30,0.1)(-1.25,0.05)(-1.20,0.1)(-1.15,0.2)(-1.12,0.5)(-1.10,0.1)(-1.05,0.05)(-0.95,0)(-0.45,0)(-0.40,0.2)(-0.35,0)(2,0)};
\addplot[red] coordinates {(-6,0)(-3.25,0)(-3.20,-0.2)(-3.15,-0.1)(-3.10,-0.15)(-3.05,-0.1)(-3.0,-0.2)(-2.95,-0.1)(-2.90,-0.15)(-2.85,-0.1)(-2.80,-0.2)(-2.75,-0.15)(-2.70,-0.1)(-2.60,-0.15)(-2.50,-0.1)(-2.40,-0.15)(-2.30,-0.1)(-2.20,-0.15)(-2.10,-0.2)(-2.0,-0.15)(-1.95,-0.3)(-1.90,-0.15)(-1.85,-0.2)(-1.80,-0.15)(-1.75,-0.3)(-1.70,-0.2)(-1.65,-0.4)(-1.60,-0.2)(-1.55,-0.15)(-1.50,-0.1)(-1.45,-0.15)(-1.40,-0.1)(-1.35,-0.15)(-1.30,-0.1)(-1.20,-0.15)(-1.10,-0.1)(-1.0,-0.05)(-0.95,-0.1)(-0.90,-0.05)(-0.85,-0.1)(-0.80,-0.05)(-0.75,0)(1.85,0)(1.87,-0.1)(1.89,0)(2,0)};
\addplot[blue] coordinates {(-6,0)(-5.938,0)(-5.93,3.4)(-5.922,0)(-5.798,0)(-5.79,6)(-5.782,0)(-4.622,0)(-4.614,2.9)(-4.606,0)(-4.526,0)(-4.518,6)(-4.51,0)(-3.20,0)(-3.183,3.15)(-3.17,0.3)(-3.151,3.2)(-3.135,0.4)(-3.119,2.3)(-3.11,0.5)(-3.094,3.0)(-3.08,0.2)(-3.02,0.1)(-2.95,0.2)(-2.928,2.0)(-2.91,0.2)(-2.85,0.3)(-2.78,0.2)(-2.725,1.4)(-2.70,0.3)(-2.65,0.4)(-2.60,0.6)(-2.56,1.95)(-2.54,0.6)(-2.496,1.5)(-2.48,0.5)(-2.43,0.7)(-2.388,1.0)(-2.35,0.6)(-2.30,0.5)(-2.25,0.7)(-2.20,0.6)(-2.165,1.8)(-2.14,0.5)(-2.129,0.5)(-2.121,6)(-2.113,0.4)(-2.07,0.5)(-2.038,1.4)(-2.02,0.5)(-1.983,0.4)(-1.975,6)(-1.967,0.4)(-1.92,0.6)(-1.879,1.2)(-1.85,0.4)(-1.828,0.9)(-1.80,0.5)(-1.76,0.4)(-1.72,0.6)(-1.68,0.3)(-1.64,0.4)(-1.60,0.5)(-1.548,0.55)(-1.52,0.3)(-1.48,0.2)(-1.442,0.3)(-1.434,6)(-1.426,0.3)(-1.40,0.8)(-1.36,0.7)(-1.32,0.4)(-1.27,0.2)(-1.262,6)(-1.254,0.2)(-1.20,0.1)(-1.15,0.1)(-1.105,0.1)(-1.097,6)(-1.089,0.1)(-1.05,0.2)(-1.021,3.6)(-1.01,0.1)(-0.933,0)(-0.925,6)(-0.917,0)(-0.412,0)(-0.404,1.6)(-0.396,0)(-0.234,0)(-0.226,6)(-0.218,0)(-0.17,0)(-0.162,6)(-0.154,0)(-0.024,0)(-0.016,1.5)(-0.008,0)(0.466,0)(0.474,2.6)(0.482,0)(0.765,0)(0.773,2.3)(0.781,0)(2,0)};
\addplot[blue] coordinates {(-6,0)(-5.83,0)(-5.822,-6)(-5.814,0)(-5.512,0)(-5.504,-6)(-5.496,0)(-4.863,0)(-4.855,-6)(-4.847,0)(-4.386,0)(-4.378,-6)(-4.37,0)(-4.113,0)(-4.105,-2.0)(-4.097,0)(-3.998,0)(-3.99,-1.1)(-3.982,0)(-3.34,0)(-3.323,-1.5)(-3.31,-0.2)(-3.25,-0.3)(-3.20,-0.2)(-3.15,-0.4)(-3.10,-0.3)(-3.056,-2.55)(-3.04,-0.3)(-2.98,-0.2)(-2.916,-2.45)(-2.90,-0.3)(-2.85,-0.2)(-2.77,-1.65)(-2.75,-0.3)(-2.70,-0.2)(-2.65,-0.4)(-2.60,-0.3)(-2.55,-0.5)(-2.50,-0.4)(-2.45,-0.6)(-2.40,-0.5)(-2.35,-0.7)(-2.30,-0.5)(-2.293,-6)(-2.285,-0.6)(-2.25,-0.8)(-2.20,-0.5)(-2.15,-0.6)(-2.11,-0.4)(-2.102,-6)(-2.094,-0.5)(-2.05,-0.6)(-2.0,-0.4)(-1.96,-0.5)(-1.943,-3.05)(-1.93,-0.4)(-1.88,-0.5)(-1.82,-0.3)(-1.76,-0.5)(-1.72,-0.6)(-1.696,-0.4)(-1.688,-6)(-1.68,-0.5)(-1.64,-0.4)(-1.60,-0.7)(-1.56,-0.5)(-1.525,-0.3)(-1.517,-6)(-1.509,-0.4)(-1.45,-0.5)(-1.40,-0.6)(-1.37,-1.25)(-1.34,-0.4)(-1.30,-0.7)(-1.26,-0.5)(-1.237,-1.0)(-1.22,-0.3)(-1.18,-0.5)(-1.14,-0.3)(-1.10,-0.6)(-1.06,-0.4)(-1.02,-0.5)(-0.98,-0.2)(-0.901,-0.2)(-0.893,-6)(-0.885,-0.1)(-0.84,-0.3)(-0.80,-0.2)(-0.766,-0.55)(-0.75,0)(-0.043,0)(-0.035,-6)(-0.027,0)(0.18,0)(0.188,-2.3)(0.196,0)(0.561,0)(0.569,-1.9)(0.577,0)(0.657,0)(0.665,-6)(0.673,0)(1.038,0)(1.046,-3.0)(1.054,0)(1.483,0)(1.491,-2.05)(1.499,0)(1.674,0)(1.682,-1.3)(1.69,0)(1.737,0)(1.745,-2.5)(1.753,0)(1.878,0)(1.886,-1.1)(1.894,0)(2,0)};
\end{axis}
\end{tikzpicture}
\end{document}
